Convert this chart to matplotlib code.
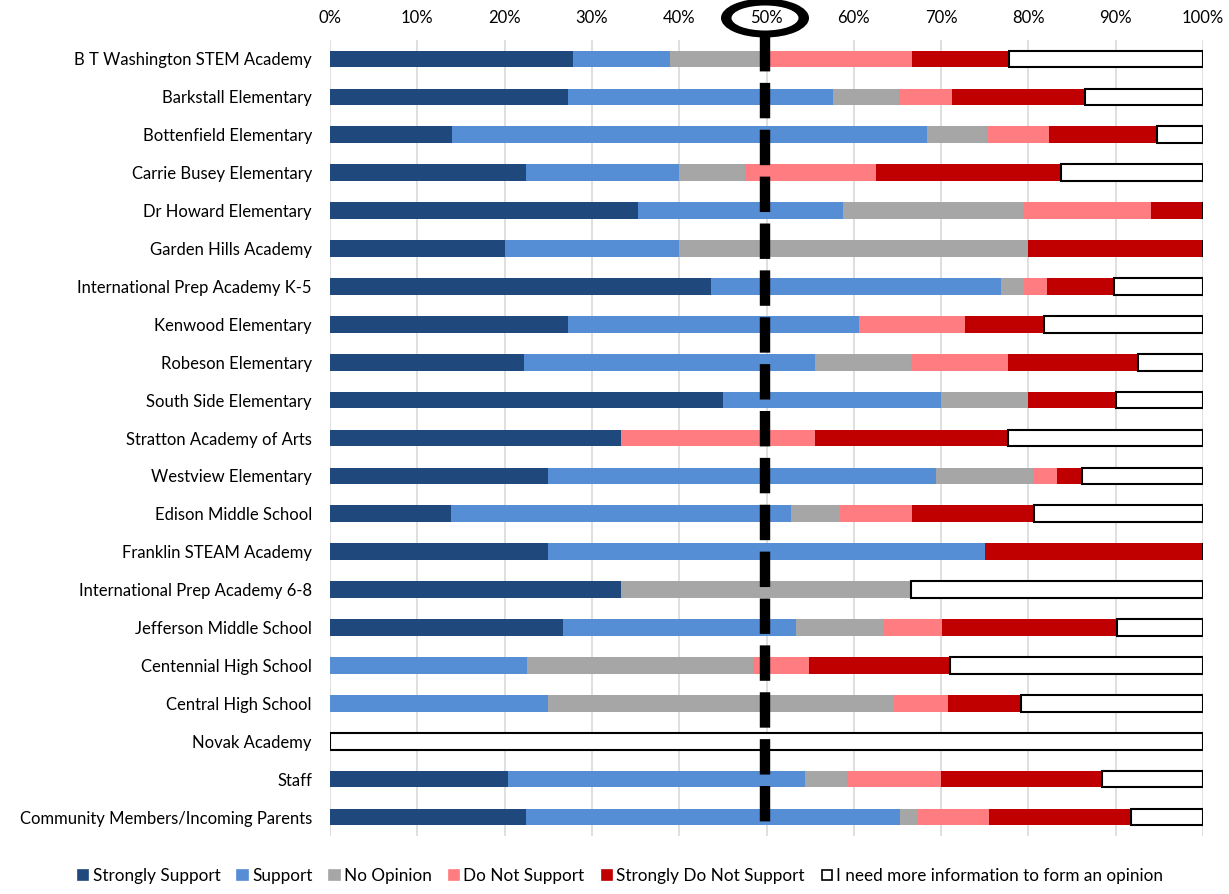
import matplotlib
matplotlib.use('Agg')
import matplotlib.pyplot as plt
import matplotlib.patches as mpatches
import numpy as np

plt.rcParams['font.family'] = ['Lato', 'DejaVu Sans']

SCHOOLS = [
    "B T Washington STEM Academy", "Barkstall Elementary", "Bottenfield Elementary",
    "Carrie Busey Elementary", "Dr Howard Elementary", "Garden Hills Academy",
    "International Prep Academy K-5", "Kenwood Elementary", "Robeson Elementary",
    "South Side Elementary", "Stratton Academy of Arts", "Westview Elementary",
    "Edison Middle School", "Franklin STEAM Academy", "International Prep Academy 6-8",
    "Jefferson Middle School", "Centennial High School", "Central High School",
    "Novak Academy", "Staff", "Community Members/Incoming Parents",
]

# percentages per response category, one value per row above
strongly_support = [27.8, 27.3, 14.0, 22.5, 35.3, 20.0, 43.6, 27.3, 22.2, 45.0, 33.3,
                    25.0, 13.9, 25.0, 33.3, 26.7, 0.0, 0.0, 0.0, 20.4, 22.4]
support = [11.1, 30.3, 54.4, 17.5, 23.5, 20.0, 33.3, 33.3, 33.3, 25.0, 0.0,
           44.4, 38.9, 50.0, 0.0, 26.7, 22.6, 25.0, 0.0, 34.0, 42.9]
no_opinion = [11.1, 7.6, 7.0, 7.5, 20.6, 40.0, 2.6, 0.0, 11.1, 10.0, 0.0,
              11.1, 5.6, 0.0, 33.3, 10.0, 25.8, 39.6, 0.0, 4.8, 2.0]
do_not_support = [16.7, 6.1, 7.0, 15.0, 14.7, 0.0, 2.6, 12.1, 11.1, 0.0, 22.2,
                  2.8, 8.3, 0.0, 0.0, 6.7, 6.5, 6.2, 0.0, 10.8, 8.2]
strongly_not = [11.1, 15.2, 12.3, 21.2, 5.9, 20.0, 7.7, 9.1, 14.8, 10.0, 22.2,
                2.8, 13.9, 25.0, 0.0, 20.0, 16.1, 8.3, 0.0, 18.4, 16.3]
need_info = [22.2, 13.5, 5.3, 16.3, 0.0, 0.0, 10.2, 18.2, 7.5, 10.0, 22.3,
             13.9, 19.4, 0.0, 33.4, 9.9, 29.0, 20.9, 100.0, 11.6, 8.2]

SERIES = [
    ("Strongly Support", strongly_support, "#1F497D", "none"),
    ("Support", support, "#558ED5", "none"),
    ("No Opinion", no_opinion, "#A6A6A6", "none"),
    ("Do Not Support", do_not_support, "#FF7C80", "none"),
    ("Strongly Do Not Support", strongly_not, "#C00000", "none"),
    ("I need more information to form an opinion", need_info, "white", "black"),
]
XTICKS = np.arange(0, 101, 10)

W, H = 1229, 894
fig = plt.figure(figsize=(W / 100, H / 100), dpi=100)
ax = fig.add_axes([330 / W, 1 - 836 / H, 873 / W, 796 / H])

y = np.arange(len(SCHOOLS))
left = np.zeros(len(SCHOOLS))
handles = []
for label, vals, color, edge in SERIES:
    vals = np.array(vals)
    lw = 1.5 if edge != "none" else 0
    ax.barh(y, vals, left=left, height=0.44, color=color, edgecolor=edge,
            linewidth=lw, zorder=3)
    left += vals
    handles.append(mpatches.Patch(facecolor=color, edgecolor=edge if edge != "none" else color,
                                  linewidth=1.2, label=label))

ax.set_xlim(0, 100)
ax.set_ylim(len(SCHOOLS) - 0.5, -0.5)
ax.set_yticks(y)
ax.set_yticklabels(SCHOOLS, fontsize=12)
ax.set_xticks(XTICKS)
ax.set_xticklabels([f"{t}%" for t in XTICKS], fontsize=12)
ax.xaxis.tick_top()
ax.tick_params(axis='y', length=0, pad=13)
ax.tick_params(axis='x', length=0, pad=10)
for s in ax.spines.values():
    s.set_visible(False)
ax.grid(axis='x', color="#D9D9D9", linewidth=1.2, zorder=0)

# 50% marker: thick dashed line with a ring round the label
ax.plot([49.8, 49.8], [-0.6, 20.35], color="black", linewidth=7.5,
        dashes=(3.4, 1.1), solid_capstyle='butt', dash_capstyle='butt',
        clip_on=False, zorder=5)
cx, cy = 765 / W, 1 - 18 / H
fig.patches.append(mpatches.Ellipse((cx, cy), 88 / W, 39 / H, facecolor="black",
                                    transform=fig.transFigure, zorder=-2))
fig.patches.append(mpatches.Ellipse((cx, cy), 67 / W, 25 / H, facecolor="white",
                                    transform=fig.transFigure, zorder=-1))

fig.legend(handles=handles, loc='center', bbox_to_anchor=(0.505, 1 - 876 / H), ncol=6,
           frameon=False, fontsize=12.3, handlelength=0.6, handleheight=0.6,
           handletextpad=0.25, columnspacing=1.0)

fig.savefig("out.png", dpi=100)
